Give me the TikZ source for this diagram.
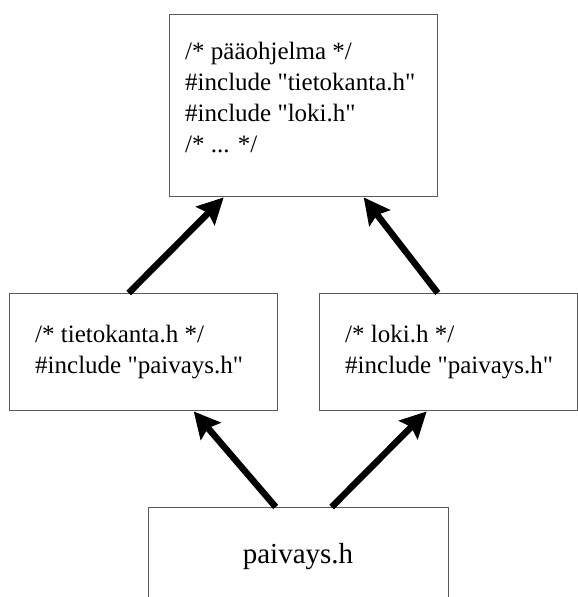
\documentclass[tikz,border=0pt]{standalone}
\usepackage{fontspec}
\newfontfamily\tms{Liberation Serif}
\usetikzlibrary{arrows.meta}
\begin{document}
\begin{tikzpicture}[x=1pt,y=-1pt,
  box/.style={draw=black!65, line width=1.4pt, inner sep=0pt, anchor=north west},
  txt/.style={anchor=base west, inner sep=0pt, font=\tms\fontsize{25}{31}\selectfont},
  big/.style={anchor=base, inner sep=0pt, font=\tms\fontsize{29}{35}\selectfont},
  arr/.style={line width=6.5pt, -{Stealth[length=26pt,width=26pt,inset=4pt]}}]
\useasboundingbox (0,0) rectangle (578,597);
\clip (0,0) rectangle (578,597);
% boxes
\node[box, minimum width=268pt, minimum height=182pt] (main) at (169,14) {};
\node[box, minimum width=268pt, minimum height=117pt] (tk) at (9,293) {};
\node[box, minimum width=258pt, minimum height=117pt] (lk) at (319,293) {};
\node[box, minimum width=300pt, minimum height=130pt] (pv) at (148,507) {};
% texts
\node[txt] (m1) at (185,59) {/* pääohjelma */};
\node[txt] (m2) at (185,90) {\#include "tietokanta.h"};
\node[txt] (m3) at (185,121) {\#include "loki.h"};
\node[txt] (m4) at (185,152) {/* ... */};
\node[txt] (t1) at (35,342) {/* tietokanta.h */};
\node[txt] (t2) at (35,373) {\#include "paivays.h"};
\node[txt] (l1) at (345,342) {/* loki.h */};
\node[txt] (l2) at (345,373) {\#include "paivays.h"};
\node[big] (p1) at (298,563) {paivays.h};
% arrows
\draw[arr] ([xshift=-15pt]tk.north) -- ([xshift=-80pt]main.south);
\draw[arr] ([xshift=-11pt]lk.north) -- ([xshift=60pt]main.south);
\draw[arr] ([xshift=-23pt]pv.north) -- ([xshift=50pt]tk.south);
\draw[arr] ([xshift=33pt]pv.north) -- ([xshift=-22pt]lk.south);
\end{tikzpicture}
\end{document}
